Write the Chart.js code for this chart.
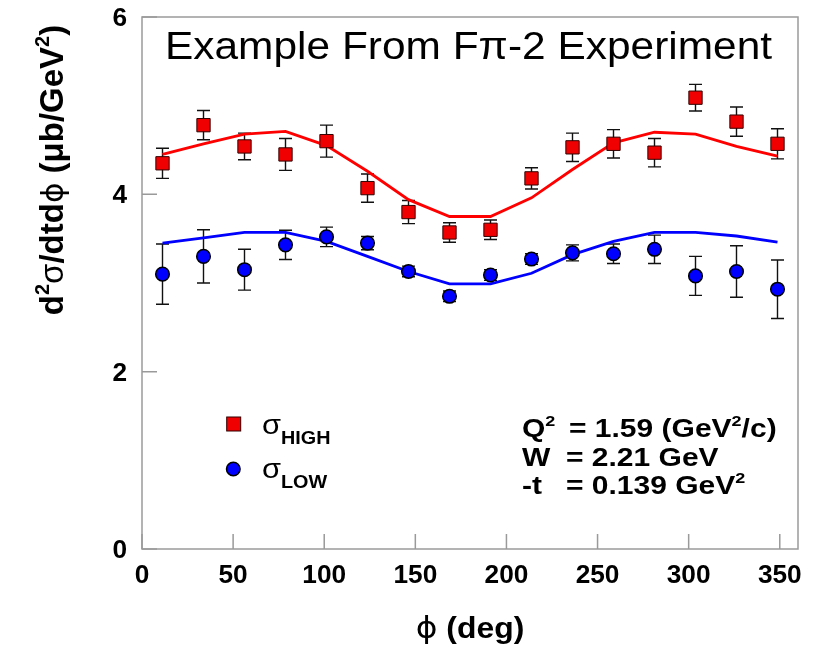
<!DOCTYPE html>
<html>
<head>
<meta charset="utf-8">
<script src="https://cdn.jsdelivr.net/npm/chart.js@4"></script>
<style>
  body { margin: 0; background: #fff; }
</style>
</head>
<body>
<canvas id="fpiChart" width="819" height="653"></canvas>
<script>
// phi bins (deg) and measured cross sections
const phi = [11.25, 33.75, 56.25, 78.75, 101.25, 123.75, 146.25, 168.75, 191.25, 213.75, 236.25, 258.75, 281.25, 303.75, 326.25, 348.75];
const sigHigh = [4.35, 4.78, 4.54, 4.45, 4.60, 4.07, 3.80, 3.57, 3.60, 4.18, 4.53, 4.57, 4.47, 5.09, 4.82, 4.57];
const errHigh = [0.17, 0.165, 0.15, 0.18, 0.18, 0.16, 0.13, 0.11, 0.11, 0.12, 0.16, 0.16, 0.16, 0.15, 0.165, 0.17];
const sigLow = [3.10, 3.30, 3.15, 3.43, 3.52, 3.45, 3.13, 2.85, 3.09, 3.27, 3.34, 3.33, 3.38, 3.08, 3.13, 2.93];
const errLow = [0.34, 0.30, 0.23, 0.165, 0.11, 0.075, 0.06, 0.06, 0.06, 0.06, 0.09, 0.11, 0.16, 0.22, 0.29, 0.33];

// model curves
const fitHigh = [4.45, 4.57, 4.68, 4.71, 4.55, 4.26, 3.94, 3.75, 3.75, 3.96, 4.28, 4.58, 4.70, 4.68, 4.54, 4.43];
const fitLow = [3.45, 3.51, 3.57, 3.57, 3.47, 3.30, 3.13, 2.99, 2.99, 3.11, 3.32, 3.47, 3.57, 3.57, 3.53, 3.46];

const xTicks = [0, 50, 100, 150, 200, 250, 300, 350];
const yTicks = [0, 2, 4, 6];

const SX = 1.1; // picture is a bit wide, stretch text to match
const FONT = '"Liberation Sans", Arial, sans-serif';
const bold = s => 'bold ' + s + 'px ' + FONT;
const norm = s => s + 'px ' + FONT;

function toPts(xs, ys) {
    return xs.map((x, i) => ({ x: x, y: ys[i] }));
}

// draw a row of text pieces [text, font, dy]
function textRuns(ctx, x, y, parts, align, sx) {
    sx = sx || SX;
    let w = 0;
    parts.forEach(p => { ctx.font = p[1]; w += ctx.measureText(p[0]).width * sx; });
    let cx = align === 'center' ? x - w / 2 : align === 'right' ? x - w : x;
    parts.forEach(p => {
        ctx.font = p[1];
        ctx.save();
        ctx.translate(cx, y + (p[2] || 0));
        ctx.scale(sx, 1);
        ctx.fillText(p[0], 0, 0);
        ctx.restore();
        cx += ctx.measureText(p[0]).width * sx;
    });
}

const errorBars = {
    id: 'errorBars',
    beforeDatasetsDraw(chart) {
        const ctx = chart.ctx, xs = chart.scales.x, ys = chart.scales.y;
        ctx.save();
        ctx.strokeStyle = '#111';
        ctx.lineWidth = 1.4;
        [[sigHigh, errHigh], [sigLow, errLow]].forEach(([vals, errs]) => {
            vals.forEach((v, i) => {
                const x = xs.getPixelForValue(phi[i]);
                const y1 = ys.getPixelForValue(v + errs[i]);
                const y2 = ys.getPixelForValue(v - errs[i]);
                ctx.beginPath();
                ctx.moveTo(x, y1); ctx.lineTo(x, y2);
                ctx.moveTo(x - 6.5, y1); ctx.lineTo(x + 6.5, y1);
                ctx.moveTo(x - 6.5, y2); ctx.lineTo(x + 6.5, y2);
                ctx.stroke();
            });
        });
        ctx.restore();
    }
};

const decorations = {
    id: 'decorations',
    afterDraw(chart) {
        const ctx = chart.ctx, xs = chart.scales.x, ys = chart.scales.y;
        const a = chart.chartArea;
        ctx.save();

        // frame and inward ticks
        ctx.strokeStyle = '#9a9a9a';
        ctx.lineWidth = 1.5;
        ctx.strokeRect(a.left, a.top, a.right - a.left, a.bottom - a.top);
        ctx.beginPath();
        xTicks.forEach(t => {
            const x = xs.getPixelForValue(t);
            ctx.moveTo(x, a.bottom); ctx.lineTo(x, a.bottom - 15);
        });
        yTicks.forEach(t => {
            const y = ys.getPixelForValue(t);
            ctx.moveTo(a.left, y); ctx.lineTo(a.left + 15, y);
        });
        ctx.stroke();

        ctx.fillStyle = '#000';
        ctx.textBaseline = 'alphabetic';
        ctx.textAlign = 'left';

        // tick labels
        xTicks.forEach(t => {
            textRuns(ctx, xs.getPixelForValue(t), a.bottom + 34, [[String(t), bold(25)]], 'center', 1.05);
        });
        yTicks.forEach(t => {
            textRuns(ctx, 127, ys.getPixelForValue(t) + 9, [[String(t), bold(25)]], 'right', 1.05);
        });

        // title inside the frame
        textRuns(ctx, 165, 58.5, [['Example From F\u03c0-2 Experiment', norm(38.6)]], 'left');

        // axis titles
        textRuns(ctx, 470, 638, [['\u03d5', '30px "DejaVu Sans", sans-serif'], [' (deg)', bold(29)]], 'center');
        ctx.save();
        ctx.translate(63, 170);
        ctx.rotate(-Math.PI / 2);
        textRuns(ctx, 0, 0, [
            ['d', bold(33)], ['2', bold(20), -14], ['\u03c3', norm(33)], ['/dtd', bold(33)],
            ['\u03d5', '31px "DejaVu Sans", sans-serif'], [' (\u03bcb/GeV', bold(33)], ['2', bold(20), -14], [')', bold(33)]
        ], 'center', 1);
        ctx.restore();

        // legend
        ctx.fillStyle = '#f00000';
        ctx.strokeStyle = '#300';
        ctx.lineWidth = 1;
        ctx.fillRect(226.7, 417, 14, 14);
        ctx.strokeRect(226.7, 417, 14, 14);
        ctx.fillStyle = '#0000ff';
        ctx.strokeStyle = '#000';
        ctx.lineWidth = 1.5;
        ctx.beginPath();
        ctx.arc(233.3, 469, 6.8, 0, Math.PI * 2);
        ctx.fill();
        ctx.stroke();
        ctx.fillStyle = '#000';
        textRuns(ctx, 262, 434, [['\u03c3', norm(28)], ['HIGH', bold(18), 10]], 'left');
        textRuns(ctx, 262, 478, [['\u03c3', norm(28)], ['LOW', bold(18), 9.5]], 'left');

        // kinematics box
        const k = 1.2;
        textRuns(ctx, 522, 437, [['Q', bold(25)], ['2', bold(15), -11]], 'left', k);
        textRuns(ctx, 569, 437, [['= 1.59 (GeV', bold(25)], ['2', bold(15), -11], ['/c)', bold(25)]], 'left', k);
        textRuns(ctx, 522, 465.5, [['W', bold(25)]], 'left', k);
        textRuns(ctx, 566, 465.5, [['= 2.21 GeV', bold(25)]], 'left', k);
        textRuns(ctx, 522, 494, [['-t', bold(25)]], 'left', k);
        textRuns(ctx, 566, 494, [['= 0.139 GeV', bold(25)], ['2', bold(15), -11]], 'left', k);

        ctx.restore();
    }
};

new Chart(document.getElementById('fpiChart'), {
    type: 'scatter',
    data: {
        datasets: [{
            label: 'sigma HIGH',
            data: toPts(phi, sigHigh),
            pointStyle: 'rect',
            pointRadius: 9.4,
            backgroundColor: '#f00000',
            borderColor: '#300',
            borderWidth: 1,
            order: 0
        }, {
            label: 'sigma LOW',
            data: toPts(phi, sigLow),
            pointStyle: 'circle',
            pointRadius: 6.8,
            backgroundColor: '#0000ff',
            borderColor: '#000',
            borderWidth: 1.5,
            order: 0
        }, {
            label: 'fit HIGH',
            data: toPts(phi, fitHigh),
            showLine: true,
            pointRadius: 0,
            borderColor: '#ff0000',
            borderWidth: 2.8,
            order: 1
        }, {
            label: 'fit LOW',
            data: toPts(phi, fitLow),
            showLine: true,
            pointRadius: 0,
            borderColor: '#0000ff',
            borderWidth: 2.8,
            order: 1
        }]
    },
    options: {
        responsive: false,
        animation: false,
        devicePixelRatio: 1,
        layout: { padding: { left: 0, right: 21, top: 17, bottom: 0 } },
        plugins: { legend: { display: false }, tooltip: { enabled: false } },
        scales: {
            x: {
                type: 'linear',
                min: 0,
                max: 360,
                afterBuildTicks: s => { s.ticks = xTicks.map(v => ({ value: v })); },
                afterFit: s => { s.height = 104; },
                ticks: { display: false },
                grid: { display: false },
                border: { display: false }
            },
            y: {
                type: 'linear',
                min: 0,
                max: 6,
                afterBuildTicks: s => { s.ticks = yTicks.map(v => ({ value: v })); },
                afterFit: s => { s.width = 142; },
                ticks: { display: false },
                grid: { display: false },
                border: { display: false }
            }
        }
    },
    plugins: [errorBars, decorations]
});
</script>
</body>
</html>
